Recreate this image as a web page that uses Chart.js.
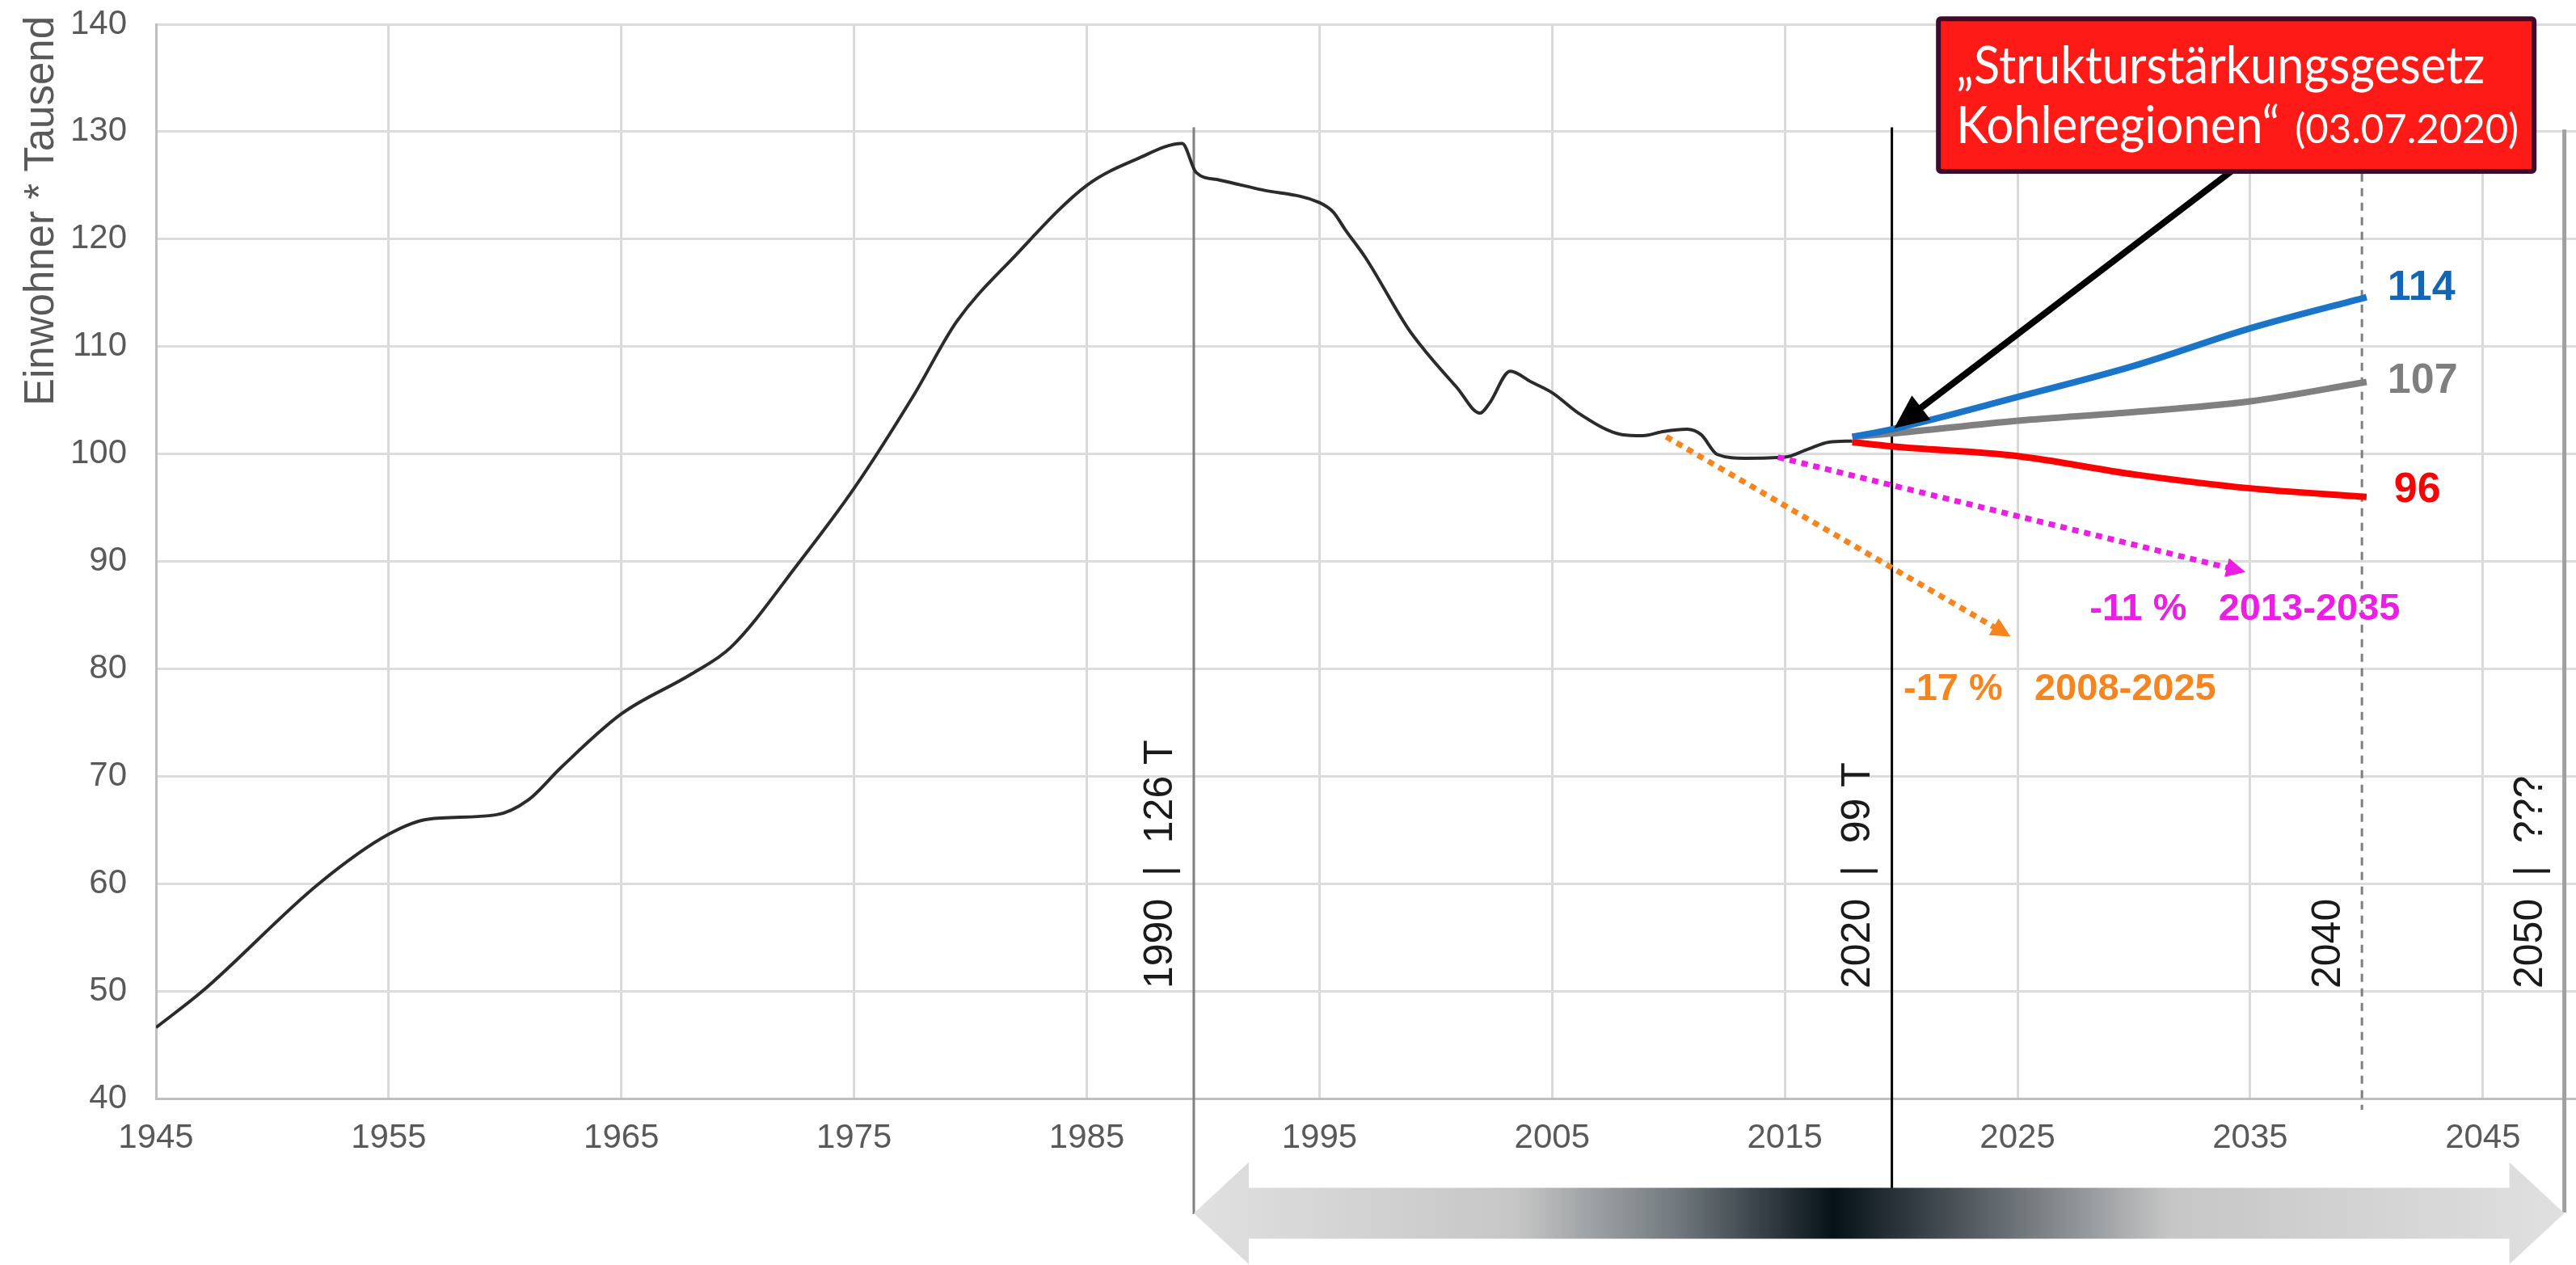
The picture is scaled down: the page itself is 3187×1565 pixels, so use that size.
<!DOCTYPE html>
<html>
<head>
<meta charset="utf-8">
<script src="https://cdn.jsdelivr.net/npm/chart.js@4.4.1/dist/chart.umd.min.js"></script>
<style>
  html, body { margin: 0; padding: 0; background: #fff; }
  #wrap { width: 3187px; height: 1565px; }
</style>
</head>
<body>
<div id="wrap"><canvas id="popChart" width="3187" height="1565"></canvas></div>
<script>
// Einwohner (Tausend), historische Entwicklung
const histYears = [1945, 1947, 1952, 1955, 1956.7, 1959.6, 1961, 1962.4, 1965, 1968, 1969.7, 1972.6, 1975, 1977.6, 1979.4, 1981.9, 1985, 1987.2, 1989.1, 1989.7, 1990.7, 1992.5, 1995, 1995.6, 1996.1, 1997, 1998.8, 1999.5, 2000.9, 2001.9, 2002.3, 2003.2, 2004.1, 2005, 2006.2, 2008, 2008.9, 2009.8, 2010.8, 2011.4, 2012.1, 2013.3, 2015, 2016, 2016.9, 2017.9];
const histValues = [46.6, 50, 60, 64.6, 66, 66.4, 67.8, 70.8, 75.8, 79.5, 82, 89.8, 96.8, 105.6, 112.3, 118.4, 125, 127.5, 128.9, 126.2, 125.5, 124.6, 123.4, 122.5, 120.9, 118.2, 111.7, 109.7, 106.2, 103.8, 104.7, 107.7, 106.7, 105.7, 103.7, 101.8, 101.7, 102.1, 102.3, 101.8, 99.95, 99.6, 99.7, 100.45, 101.1, 101.2];

// Prognosen
const projYears = [2017.9, 2019.6, 2025, 2030, 2035, 2040];
const projHigh = [101.6, 102.3, 105.3, 108.2, 111.7, 114.6];
const projMid = [101.6, 101.9, 103.1, 103.9, 104.9, 106.7];
const projLow = [101.1, 100.7, 99.8, 98.1, 96.8, 96.0];
const endLabels = ['114', '107', '96'];
const endLabelValues = [115.4, 106.8, 96.6];

// Trendpfeile
const trendFrom = [[2009.9, 101.6], [2014.7, 99.7]];
const trendTo = [[2024.7, 83.0], [2034.8, 89.0]];
const trendLabels = ['-17 %   2008-2025', '-11 %   2013-2035'];
const trendLabelPos = [[2020.1, 78.1], [2028.1, 85.5]];

// Markierungen
const markerYears = [1989.6, 2019.6, 2039.8, 2048.5];
const markerLabels = ['1990  |  126 T', '2020  |  99 T', '2040', '2050  |  ???'];

const xTicks = [1945, 1955, 1965, 1975, 1985, 1995, 2005, 2015, 2025, 2035, 2045];
const yTicks = [40, 50, 60, 70, 80, 90, 100, 110, 120, 130, 140];

const boxLine1 = '„Strukturstärkungsgesetz';
const boxLine2 = 'Kohleregionen“';
const boxDate = '(03.07.2020)';

const toXY = (xs, ys) => xs.map((v, i) => ({ x: v, y: ys[i] }));

// draw text squeezed/stretched to a given width
function fitText(ctx, text, x, y, w) {
  const m = ctx.measureText(text).width;
  ctx.save();
  ctx.translate(x, y);
  ctx.scale(w / m, 1);
  ctx.fillText(text, 0, 0);
  ctx.restore();
}

function arrowHead(ctx, x1, y1, x2, y2, len, half) {
  const a = Math.atan2(y2 - y1, x2 - x1);
  ctx.beginPath();
  ctx.moveTo(x2, y2);
  ctx.lineTo(x2 - len * Math.cos(a) + half * Math.sin(a), y2 - len * Math.sin(a) - half * Math.cos(a));
  ctx.lineTo(x2 - len * Math.cos(a) - half * Math.sin(a), y2 - len * Math.sin(a) + half * Math.cos(a));
  ctx.closePath();
  ctx.fill();
}

const overlay = {
  id: 'overlay',
  beforeDatasetsDraw(chart) {
    const { ctx, scales: { x, y }, chartArea } = chart;
    const styles = [
      { color: '#808080', width: 3, dash: [], top: 130.4, below: 143 },
      { color: '#000000', width: 3, dash: [], top: 130.4, below: 111 },
      { color: '#7f7f7f', width: 3, dash: [10, 8], top: 126.1, below: 14 },
      { color: '#a0a0a0', width: 5, dash: [], top: 130.2, below: 141 }
    ];
    markerYears.forEach((yr, i) => {
      const s = styles[i];
      const px = x.getPixelForValue(yr);
      ctx.save();
      ctx.strokeStyle = s.color;
      ctx.lineWidth = s.width;
      ctx.setLineDash(s.dash);
      ctx.beginPath();
      ctx.moveTo(px, y.getPixelForValue(s.top));
      ctx.lineTo(px, chartArea.bottom + s.below);
      ctx.stroke();
      ctx.restore();

      // rotated label left of the line
      ctx.save();
      ctx.translate(px - 41, chartArea.bottom - 136);
      ctx.rotate(-Math.PI / 2);
      ctx.font = '50px "Liberation Sans", Arial, sans-serif';
      ctx.fillStyle = '#1a1a1a';
      ctx.textAlign = 'left';
      ctx.textBaseline = 'middle';
      ctx.fillText(markerLabels[i], 0, 0);
      ctx.restore();
    });

    // y axis title
    ctx.save();
    ctx.translate(52, 20);
    ctx.rotate(-Math.PI / 2);
    ctx.font = '51px "Liberation Sans", Arial, sans-serif';
    ctx.fillStyle = '#595959';
    ctx.textAlign = 'right';
    ctx.textBaseline = 'middle';
    ctx.fillText('Einwohner * Tausend', 0, 0);
    ctx.restore();

    // gradient double arrow below the axis
    const xl = x.getPixelForValue(markerYears[0]);
    const xr = x.getPixelForValue(markerYears[3]);
    const cy = chartArea.bottom + 142;
    const head = 68, shaft = 31.5, hh = 63;
    const g = ctx.createLinearGradient(xl, 0, xr, 0);
    const span = xr - xl;
    g.addColorStop(0, '#e0e0e0');
    g.addColorStop((1879 - 1480) / span, '#c6c6c6');
    g.addColorStop((2080 - 1480) / span, '#70787d');
    g.addColorStop((2272 - 1480) / span, '#061118');
    g.addColorStop((2480 - 1480) / span, '#656c71');
    g.addColorStop((2688 - 1480) / span, '#c6c6c6');
    g.addColorStop(1, '#e0e0e0');
    ctx.save();
    ctx.fillStyle = g;
    ctx.beginPath();
    ctx.moveTo(xl, cy);
    ctx.lineTo(xl + head, cy - hh);
    ctx.lineTo(xl + head, cy - shaft);
    ctx.lineTo(xr - head, cy - shaft);
    ctx.lineTo(xr - head, cy - hh);
    ctx.lineTo(xr, cy);
    ctx.lineTo(xr - head, cy + hh);
    ctx.lineTo(xr - head, cy + shaft);
    ctx.lineTo(xl + head, cy + shaft);
    ctx.lineTo(xl + head, cy + hh);
    ctx.closePath();
    ctx.fill();
    ctx.restore();
  },
  afterDatasetsDraw(chart) {
    const { ctx, scales: { x, y } } = chart;

    // end labels of the projections
    const labelColors = ['#1366b4', '#7f7f7f', '#ff0000'];
    ctx.save();
    ctx.font = 'bold 52px "Liberation Sans", Arial, sans-serif';
    ctx.textBaseline = 'middle';
    ctx.textAlign = 'left';
    endLabels.forEach((t, i) => {
      ctx.fillStyle = labelColors[i];
      ctx.fillText(t, x.getPixelForValue(2040.9) + (i === 2 ? 8 : 0), y.getPixelForValue(endLabelValues[i]));
    });
    ctx.restore();

    // dotted trend arrows
    const trendColors = ['#f7841d', '#ee1de6'];
    trendFrom.forEach((f, i) => {
      const x1 = x.getPixelForValue(f[0]), y1 = y.getPixelForValue(f[1]);
      const x2 = x.getPixelForValue(trendTo[i][0]), y2 = y.getPixelForValue(trendTo[i][1]);
      const a = Math.atan2(y2 - y1, x2 - x1);
      ctx.save();
      ctx.strokeStyle = trendColors[i];
      ctx.fillStyle = trendColors[i];
      ctx.lineWidth = 7;
      ctx.setLineDash([8, 7]);
      ctx.beginPath();
      ctx.moveTo(x1, y1);
      ctx.lineTo(x2 - 18 * Math.cos(a), y2 - 18 * Math.sin(a));
      ctx.stroke();
      ctx.setLineDash([]);
      arrowHead(ctx, x1, y1, x2, y2, 24, 12);
      ctx.font = 'bold 47px "Liberation Sans", Arial, sans-serif';
      ctx.textBaseline = 'middle';
      ctx.fillText(trendLabels[i], x.getPixelForValue(trendLabelPos[i][0]), y.getPixelForValue(trendLabelPos[i][1]));
      ctx.restore();
    });

    // black arrow from the box to 2020
    const bx1 = x.getPixelForValue(2034.3), by1 = y.getPixelForValue(126.5);
    const bx2 = x.getPixelForValue(2019.7), by2 = y.getPixelForValue(102.4);
    const a = Math.atan2(by2 - by1, bx2 - bx1);
    ctx.save();
    ctx.strokeStyle = '#000';
    ctx.fillStyle = '#000';
    ctx.lineWidth = 8;
    ctx.beginPath();
    ctx.moveTo(bx1, by1);
    ctx.lineTo(bx2 - 30 * Math.cos(a), by2 - 30 * Math.sin(a));
    ctx.stroke();
    arrowHead(ctx, bx1, by1, bx2, by2, 42, 19);
    ctx.restore();

    // red box
    const l = x.getPixelForValue(2021.6), r = x.getPixelForValue(2047.2);
    const t = y.getPixelForValue(140.5), b = y.getPixelForValue(126.3);
    ctx.save();
    ctx.fillStyle = '#fe1a16';
    ctx.strokeStyle = '#400a2c';
    ctx.lineWidth = 6;
    ctx.beginPath();
    ctx.roundRect(l, t, r - l, b - t, 3);
    ctx.fill();
    ctx.stroke();
    ctx.fillStyle = '#ffffff';
    ctx.textBaseline = 'alphabetic';
    ctx.textAlign = 'left';
    ctx.font = '64px Lato, "Open Sans", sans-serif';
    fitText(ctx, boxLine1, l + 22, t + 80, 654);
    fitText(ctx, boxLine2, l + 22, t + 154, 400);
    ctx.font = '50px Lato, "Open Sans", sans-serif';
    fitText(ctx, boxDate, l + 441, t + 154, 277);
    ctx.restore();
  }
};

const tickFont = { family: '"Liberation Sans", Arial, sans-serif', size: 42 };

new Chart(document.getElementById('popChart'), {
  type: 'line',
  data: {
    datasets: [
      {
        label: 'Historisch',
        data: toXY(histYears, histValues),
        borderColor: '#2b2b2b',
        borderWidth: 4,
        pointRadius: 0,
        cubicInterpolationMode: 'monotone'
      },
      {
        label: 'Hoch',
        data: toXY(projYears, projHigh),
        borderColor: '#1a74c8',
        borderWidth: 8,
        pointRadius: 0,
        cubicInterpolationMode: 'monotone'
      },
      {
        label: 'Mittel',
        data: toXY(projYears, projMid),
        borderColor: '#808080',
        borderWidth: 8,
        pointRadius: 0,
        cubicInterpolationMode: 'monotone'
      },
      {
        label: 'Niedrig',
        data: toXY(projYears, projLow),
        borderColor: '#fe0000',
        borderWidth: 8,
        pointRadius: 0,
        cubicInterpolationMode: 'monotone'
      }
    ]
  },
  options: {
    responsive: false,
    animation: false,
    devicePixelRatio: 1,
    layout: { padding: { top: 30, left: 0, right: 0, bottom: 0 } },
    plugins: {
      legend: { display: false },
      tooltip: { enabled: false }
    },
    scales: {
      x: {
        type: 'linear',
        min: 1945,
        max: 2049,
        afterBuildTicks: scale => { scale.ticks = xTicks.map(v => ({ value: v })); },
        afterFit: scale => { scale.height = 206; },
        grid: { color: '#d9d9d9', lineWidth: 3, drawTicks: false },
        border: { color: '#bfbfbf', width: 3 },
        ticks: { font: tickFont, color: '#595959', padding: 24, maxRotation: 0, callback: v => String(v) }
      },
      y: {
        min: 40,
        max: 140,
        afterBuildTicks: scale => { scale.ticks = yTicks.map(v => ({ value: v })); },
        afterFit: scale => {
          scale.width = 193;
          // the top label may sit in the page margin
          scale.paddingTop = 0;
          scale.paddingBottom = 0;
        },
        grid: { color: '#dcdcdc', lineWidth: 3, drawTicks: false },
        border: { color: '#bfbfbf', width: 3 },
        ticks: { font: tickFont, color: '#595959', padding: 36 }
      }
    }
  },
  plugins: [overlay]
});
</script>
</body>
</html>
